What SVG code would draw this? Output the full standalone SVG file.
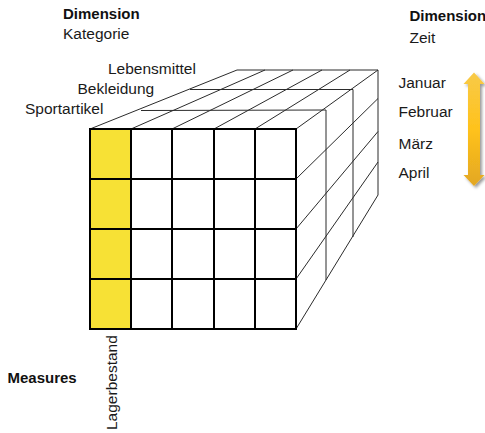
<svg xmlns="http://www.w3.org/2000/svg" width="485" height="433" viewBox="0 0 485 433">
  <defs>
    <style>
      .t { font-family: "Liberation Sans", Arial, sans-serif; font-size: 15.5px; fill: #1a1a1a; }
      .b { font-family: "Liberation Sans", Arial, sans-serif; font-size: 15px; font-weight: bold; fill: #111; }
      .thin { stroke: #2b2b2b; stroke-width: 1; fill: none; }
      .thick { stroke: #000; stroke-width: 2; fill: none; }
    </style>
    <linearGradient id="gold" x1="0" y1="0" x2="0" y2="1">
      <stop offset="0" stop-color="#F8CA48"/>
      <stop offset="0.5" stop-color="#FFC21C"/>
      <stop offset="1" stop-color="#E3A722"/>
    </linearGradient>
    <filter id="shadow" x="-50%" y="-10%" width="200%" height="120%">
      <feDropShadow dx="2" dy="2" stdDeviation="1.5" flood-color="#000" flood-opacity="0.4"/>
    </filter>
  </defs>
  <rect width="485" height="433" fill="#fff"/>

  <g id="labels-left">
    <text class="b" x="63" y="18.5">Dimension</text>
    <text class="t" x="63" y="39">Kategorie</text>
    <text class="t" x="108" y="74">Lebensmittel</text>
    <text class="t" x="77.5" y="93.5">Bekleidung</text>
    <text class="t" x="25" y="113.5">Sportartikel</text>
    <text class="b" x="7.5" y="382.5">Measures</text>
    <text class="t" transform="translate(116.5,430) rotate(-90)">Lagerbestand</text>
  </g>

  <g id="labels-right">
    <text class="b" x="409.5" y="20.5">Dimension</text>
    <text class="t" x="409.5" y="42.5">Zeit</text>
    <text class="t" x="398.5" y="88">Januar</text>
    <text class="t" x="398.5" y="117">Februar</text>
    <text class="t" x="398.5" y="149">März</text>
    <text class="t" x="398.5" y="178">April</text>
  </g>

  <g id="time-arrow">
    <path d="M474,72.5 L484.5,84 L480,84 L480,175 L484.5,175 L474,186 L463.5,175 L468,175 L468,84 L463.5,84 Z" fill="url(#gold)" filter="url(#shadow)"/>
  </g>

  <g id="top-face" class="thin">
    <line x1="90" y1="129" x2="237" y2="70"/>
    <line x1="237" y1="70" x2="378" y2="70"/>
    <line x1="141" y1="110.5" x2="326" y2="110"/>
    <line x1="190" y1="89.5" x2="353" y2="89.5"/>
    <line x1="131" y1="129" x2="265" y2="70"/>
    <line x1="172" y1="129" x2="293" y2="70"/>
    <line x1="214" y1="129" x2="322" y2="70"/>
    <line x1="255" y1="129" x2="350" y2="70"/>
    <line x1="296" y1="129" x2="378" y2="70"/>
  </g>

  <g id="right-face" class="thin">
    <line x1="326" y1="110" x2="326" y2="280"/>
    <line x1="353" y1="89.5" x2="353" y2="237"/>
    <line x1="378" y1="70" x2="378" y2="195"/>
    <line x1="296" y1="179" x2="378" y2="98.5"/>
    <line x1="296" y1="229" x2="378" y2="131.5"/>
    <line x1="296" y1="279" x2="378" y2="162"/>
    <line x1="296" y1="329" x2="378" y2="195"/>
  </g>

  <g id="front-face">
    <rect x="90" y="129" width="206" height="200" fill="#fff"/>
    <rect x="90" y="129" width="41" height="200" fill="#F7E135"/>
    <g class="thick">
      <rect x="90" y="129" width="206" height="200"/>
      <line x1="131" y1="129" x2="131" y2="329"/>
      <line x1="172" y1="129" x2="172" y2="329"/>
      <line x1="214" y1="129" x2="214" y2="329"/>
      <line x1="255" y1="129" x2="255" y2="329"/>
      <line x1="90" y1="179" x2="296" y2="179"/>
      <line x1="90" y1="229" x2="296" y2="229"/>
      <line x1="90" y1="279" x2="296" y2="279"/>
    </g>
  </g>
</svg>
